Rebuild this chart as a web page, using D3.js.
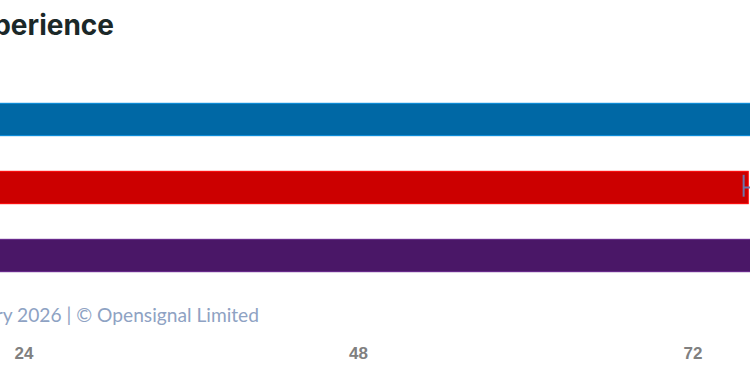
<!DOCTYPE html>
<html>
<head>
<meta charset="utf-8">
<script src="https://cdn.jsdelivr.net/npm/d3@7"></script>
<style>
  html, body { margin: 0; padding: 0; background: #ffffff; overflow: hidden; }
  svg { display: block; }
</style>
</head>
<body>
<svg id="chart" width="750" height="375"></svg>
<script>
// ---- data ----
const title = "Video Experience";
const footer = "January 2026 | © Opensignal Limited";
const categories = ["O2", "Vodafone", "Three"];
const values = [78.2, 76.0, 77.4];
const ciLower = [77.8, 75.67, 77.0];
const ciUpper = [78.6, 76.4, 77.8];
const colors = ["#0068a5", "#cc0000", "#4a1767"];
const tickValues = [0, 24, 48, 72, 96];

// ---- layout ----
const svg = d3.select("#chart");
const x = d3.scaleLinear().domain([0, 96]).range([-311, -311 + 96 * 13.9375]);
const y = d3.scaleBand().domain(categories).range([103.3, 271.7]).paddingInner(0.524).paddingOuter(0);

const rows = categories.map((c, i) => ({ c, v: values[i], lo: ciLower[i], hi: ciUpper[i], color: colors[i] }));

// title
svg.append("text")
  .attr("x", 114).attr("y", 35)
  .attr("text-anchor", "end")
  .attr("font-family", "Inter, 'Noto Sans', sans-serif")
  .attr("font-weight", 700)
  .attr("font-size", 28)
  .attr("fill", "#1b2828")
  .text(title);

// bars
svg.append("g").selectAll("rect").data(rows).join("rect")
  .attr("x", x(0))
  .attr("y", d => y(d.c))
  .attr("width", d => x(d.v) - x(0))
  .attr("height", y.bandwidth())
  .attr("fill", d => d.color)
  .attr("stroke", d => d3.color(d.color).brighter(0.8))
  .attr("stroke-width", 1);

// error bars
const eb = svg.append("g").selectAll("g").data(rows).join("g")
  .attr("stroke", "#6f73a8").attr("stroke-width", 2).attr("fill", "none");
eb.append("line")
  .attr("x1", d => x(d.lo)).attr("x2", d => x(d.hi))
  .attr("y1", d => y(d.c) + y.bandwidth() / 2).attr("y2", d => y(d.c) + y.bandwidth() / 2);
eb.append("line")
  .attr("x1", d => x(d.lo)).attr("x2", d => x(d.lo))
  .attr("y1", d => y(d.c) + 3.5).attr("y2", d => y(d.c) + y.bandwidth() - 7);
eb.append("line")
  .attr("x1", d => x(d.hi)).attr("x2", d => x(d.hi))
  .attr("y1", d => y(d.c) + 3.5).attr("y2", d => y(d.c) + y.bandwidth() - 7);

// footer
svg.append("text")
  .attr("x", 259).attr("y", 322)
  .attr("text-anchor", "end")
  .attr("font-family", "Lato, 'Noto Sans', sans-serif")
  .attr("font-size", 19.2)
  .attr("fill", "#8ea2c3")
  .text(footer);

// x axis
const axis = d3.axisBottom(x).tickValues(tickValues).tickSize(0).tickPadding(0);
const ax = svg.append("g").attr("transform", "translate(0,347)").call(axis);
ax.select(".domain").remove();
ax.selectAll("text")
  .attr("dy", "0.71em")
  .attr("font-family", "'Liberation Sans', Arial, sans-serif")
  .attr("font-weight", 700)
  .attr("font-size", 17)
  .attr("fill", "#808080");
</script>
</body>
</html>
